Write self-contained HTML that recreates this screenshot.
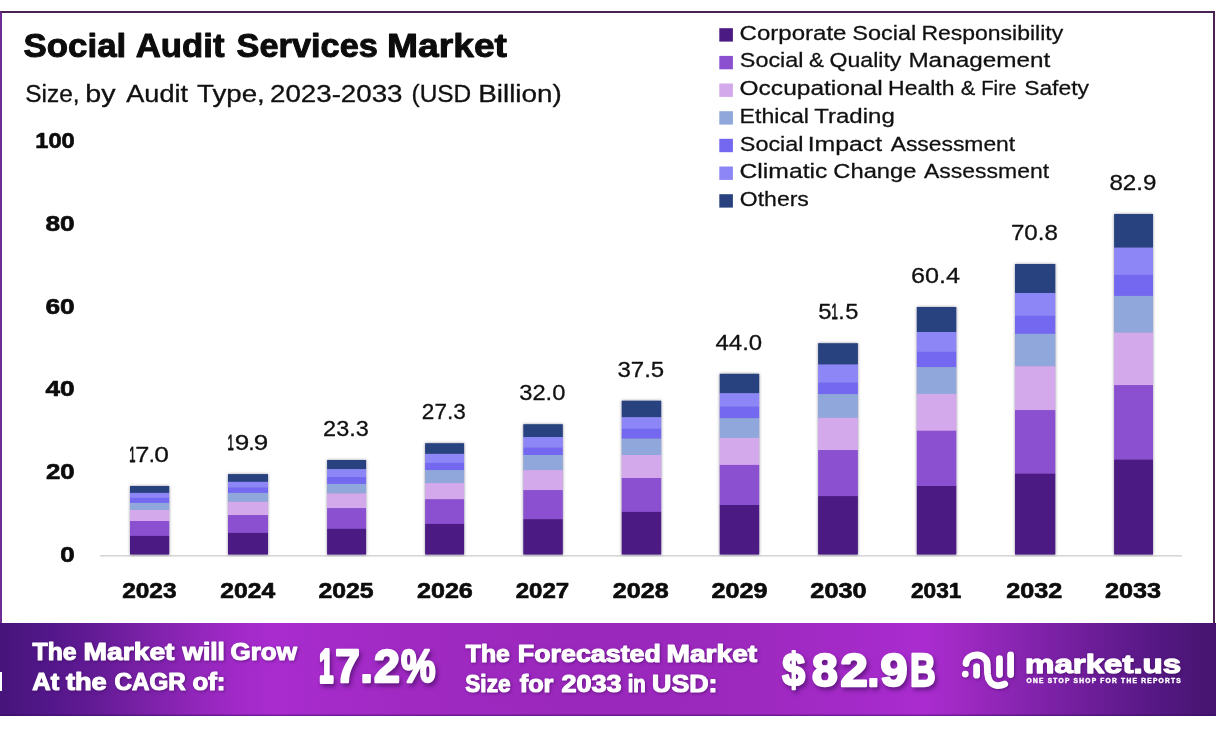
<!DOCTYPE html>
<html lang="en"><head><meta charset="utf-8"><title>Social Audit Services Market</title>
<style>
html,body{margin:0;padding:0;background:#fff}
body{width:1216px;height:730px;overflow:hidden;font-family:"Liberation Sans",sans-serif}
#wrap{position:relative;width:1216px;height:730px;overflow:hidden;background:#fff}
#frame{position:absolute;left:0;top:11px;width:1211px;height:612px;border:2px solid #4a2252;border-left-color:#6d2b93;border-bottom:none;background:#fff}
#banner{position:absolute;left:0;top:623px;width:1216px;height:93px;box-shadow:inset 0 -1.5px 0 rgba(50,10,90,.45);background:linear-gradient(90deg,#46147a 0%,#53178a 4%,#641b96 8%,#7b21a8 12%,#9126ba 16%,#a32ac9 20%,#a92ccf 22.5%,#a52bc9 27%,#9f29c1 35%,#9a28bc 50%,#9d29bf 62%,#a42ac8 70%,#aa2cd0 76%,#9f29c3 79%,#8724b0 84%,#6c1d98 90%,#561884 95%,#45146f 100%)}
#notch{position:absolute;left:0;top:672px;width:1.5px;height:19px;background:#fff}
svg{position:absolute;left:0;top:0}
text{font-family:"Liberation Sans",sans-serif;white-space:pre}
.sh{filter:drop-shadow(1px 1.5px 1.5px rgba(60,10,90,.55))}
.shb{filter:drop-shadow(2px 3px 2px rgba(60,10,90,.6))}
.bars{filter:drop-shadow(0.6px 0.3px 1.8px rgba(40,30,70,.5))}
</style></head><body>
<div id="wrap">
<div id="frame"></div>
<div id="banner"></div>
<div id="notch"></div>
<svg width="1216" height="730" viewBox="0 0 1216 730">
<rect x="100" y="555" width="1082" height="1.6" fill="#d6d6d6"/>
<g class="bars">
<rect x="130.0" y="486.0" width="39.2" height="7.2" fill="#27427e"/><rect x="130.0" y="492.9" width="39.2" height="5.2" fill="#8c86f6"/><rect x="130.0" y="497.8" width="39.2" height="5.4" fill="#7468f1"/><rect x="130.0" y="502.9" width="39.2" height="7.4" fill="#8fa7da"/><rect x="130.0" y="510.0" width="39.2" height="11.3" fill="#d3a9ec"/><rect x="130.0" y="521.0" width="39.2" height="15.2" fill="#8b50d0"/><rect x="130.0" y="535.9" width="39.2" height="18.7" fill="#4b1a82"/>
<rect x="228.0" y="474.1" width="40.0" height="8.0" fill="#27427e"/><rect x="228.0" y="481.8" width="40.0" height="6.0" fill="#8c86f6"/><rect x="228.0" y="487.5" width="40.0" height="5.7" fill="#7468f1"/><rect x="228.0" y="492.9" width="40.0" height="9.2" fill="#8fa7da"/><rect x="228.0" y="501.8" width="40.0" height="13.6" fill="#d3a9ec"/><rect x="228.0" y="515.1" width="40.0" height="18.1" fill="#8b50d0"/><rect x="228.0" y="532.9" width="40.0" height="21.7" fill="#4b1a82"/>
<rect x="327.1" y="460.0" width="39.0" height="9.4" fill="#27427e"/><rect x="327.1" y="469.1" width="39.0" height="8.2" fill="#8c86f6"/><rect x="327.1" y="477.0" width="39.0" height="7.2" fill="#7468f1"/><rect x="327.1" y="483.9" width="39.0" height="9.7" fill="#8fa7da"/><rect x="327.1" y="493.3" width="39.0" height="15.1" fill="#d3a9ec"/><rect x="327.1" y="508.1" width="39.0" height="21.0" fill="#8b50d0"/><rect x="327.1" y="528.8" width="39.0" height="25.8" fill="#4b1a82"/>
<rect x="425.1" y="443.2" width="39.0" height="10.9" fill="#27427e"/><rect x="425.1" y="453.8" width="39.0" height="9.4" fill="#8c86f6"/><rect x="425.1" y="462.9" width="39.0" height="7.5" fill="#7468f1"/><rect x="425.1" y="470.1" width="39.0" height="13.3" fill="#8fa7da"/><rect x="425.1" y="483.1" width="39.0" height="16.4" fill="#d3a9ec"/><rect x="425.1" y="499.2" width="39.0" height="25.0" fill="#8b50d0"/><rect x="425.1" y="523.9" width="39.0" height="30.7" fill="#4b1a82"/>
<rect x="523.3" y="424.2" width="39.5" height="13.1" fill="#27427e"/><rect x="523.3" y="437.0" width="39.5" height="10.9" fill="#8c86f6"/><rect x="523.3" y="447.6" width="39.5" height="7.7" fill="#7468f1"/><rect x="523.3" y="455.0" width="39.5" height="15.4" fill="#8fa7da"/><rect x="523.3" y="470.1" width="39.5" height="20.3" fill="#d3a9ec"/><rect x="523.3" y="490.1" width="39.5" height="29.4" fill="#8b50d0"/><rect x="523.3" y="519.2" width="39.5" height="35.4" fill="#4b1a82"/>
<rect x="621.7" y="400.7" width="39.5" height="16.8" fill="#27427e"/><rect x="621.7" y="417.2" width="39.5" height="11.8" fill="#8c86f6"/><rect x="621.7" y="428.7" width="39.5" height="10.2" fill="#7468f1"/><rect x="621.7" y="438.6" width="39.5" height="16.7" fill="#8fa7da"/><rect x="621.7" y="455.0" width="39.5" height="23.3" fill="#d3a9ec"/><rect x="621.7" y="478.0" width="39.5" height="34.2" fill="#8b50d0"/><rect x="621.7" y="511.9" width="39.5" height="42.7" fill="#4b1a82"/>
<rect x="719.7" y="373.8" width="39.5" height="19.7" fill="#27427e"/><rect x="719.7" y="393.2" width="39.5" height="13.7" fill="#8c86f6"/><rect x="719.7" y="406.6" width="39.5" height="11.9" fill="#7468f1"/><rect x="719.7" y="418.2" width="39.5" height="20.0" fill="#8fa7da"/><rect x="719.7" y="437.9" width="39.5" height="27.3" fill="#d3a9ec"/><rect x="719.7" y="464.9" width="39.5" height="40.4" fill="#8b50d0"/><rect x="719.7" y="505.0" width="39.5" height="49.6" fill="#4b1a82"/>
<rect x="818.1" y="343.2" width="39.8" height="21.6" fill="#27427e"/><rect x="818.1" y="364.5" width="39.8" height="18.4" fill="#8c86f6"/><rect x="818.1" y="382.6" width="39.8" height="11.8" fill="#7468f1"/><rect x="818.1" y="394.1" width="39.8" height="24.0" fill="#8fa7da"/><rect x="818.1" y="417.8" width="39.8" height="32.6" fill="#d3a9ec"/><rect x="818.1" y="450.1" width="39.8" height="46.3" fill="#8b50d0"/><rect x="818.1" y="496.1" width="39.8" height="58.5" fill="#4b1a82"/>
<rect x="916.8" y="307.0" width="39.5" height="25.3" fill="#27427e"/><rect x="916.8" y="332.0" width="39.5" height="20.1" fill="#8c86f6"/><rect x="916.8" y="351.8" width="39.5" height="15.6" fill="#7468f1"/><rect x="916.8" y="367.1" width="39.5" height="27.1" fill="#8fa7da"/><rect x="916.8" y="393.9" width="39.5" height="37.1" fill="#d3a9ec"/><rect x="916.8" y="430.7" width="39.5" height="55.6" fill="#8b50d0"/><rect x="916.8" y="486.0" width="39.5" height="68.6" fill="#4b1a82"/>
<rect x="1015.0" y="264.0" width="40.3" height="29.3" fill="#27427e"/><rect x="1015.0" y="293.0" width="40.3" height="23.1" fill="#8c86f6"/><rect x="1015.0" y="315.8" width="40.3" height="18.3" fill="#7468f1"/><rect x="1015.0" y="333.8" width="40.3" height="32.7" fill="#8fa7da"/><rect x="1015.0" y="366.2" width="40.3" height="44.2" fill="#d3a9ec"/><rect x="1015.0" y="410.1" width="40.3" height="63.9" fill="#8b50d0"/><rect x="1015.0" y="473.7" width="40.3" height="80.9" fill="#4b1a82"/>
<rect x="1114.1" y="214.0" width="38.9" height="33.9" fill="#27427e"/><rect x="1114.1" y="247.6" width="38.9" height="27.6" fill="#8c86f6"/><rect x="1114.1" y="274.9" width="38.9" height="21.3" fill="#7468f1"/><rect x="1114.1" y="295.9" width="38.9" height="37.0" fill="#8fa7da"/><rect x="1114.1" y="332.6" width="38.9" height="52.8" fill="#d3a9ec"/><rect x="1114.1" y="385.1" width="38.9" height="74.8" fill="#8b50d0"/><rect x="1114.1" y="459.6" width="38.9" height="95.0" fill="#4b1a82"/>
</g>
<rect x="719.3" y="28.2" width="13.6" height="13.4" fill="#4b1a82"/>
<rect x="719.3" y="55.9" width="13.6" height="13.4" fill="#8b50d0"/>
<rect x="719.3" y="83.5" width="13.6" height="13.4" fill="#d3a9ec"/>
<rect x="719.3" y="111.2" width="13.6" height="13.4" fill="#8fa7da"/>
<rect x="719.3" y="138.8" width="13.6" height="13.4" fill="#7468f1"/>
<rect x="719.3" y="166.5" width="13.6" height="13.4" fill="#8c86f6"/>
<rect x="719.3" y="194.2" width="13.6" height="13.4" fill="#27427e"/>
<g class="sh" fill="none" stroke="#fff" stroke-width="6.8" stroke-linecap="round" stroke-linejoin="round"><path d="M966 663.5 A10.6 9 0 0 1 987.2 664.5 L987.6 674 C988 680 991.5 685.4 997.5 685.6 C1000.5 685.7 1003 685 1004.7 684"/><path d="M976.6 666.6 L976.6 675.2"/><path d="M999.5 658.7 L999.5 674.5"/><path d="M1010.6 654.9 L1010.6 674.5"/><circle cx="965.3" cy="674.1" r="3.4" fill="#fff" stroke="none"/></g>
<text id="title" y="57.41" font-size="33.4" font-weight="700" fill="#0c0c0c" stroke="#0c0c0c" stroke-width="0.97" stroke-linejoin="round"><tspan x="23.50" textLength="102.76" lengthAdjust="spacingAndGlyphs">Social</tspan> <tspan x="135.76" textLength="88.74" lengthAdjust="spacingAndGlyphs">Audit</tspan> <tspan x="236.50" textLength="141.49" lengthAdjust="spacingAndGlyphs">Services</tspan> <tspan x="387.00" textLength="120.00" lengthAdjust="spacingAndGlyphs">Market</tspan></text>
<text id="sub" y="101.84" font-size="24.2" font-weight="400" fill="#111" stroke="#111" stroke-width="0.32" stroke-linejoin="round"><tspan x="25.23" textLength="54.31" lengthAdjust="spacingAndGlyphs">Size,</tspan> <tspan x="85.27" textLength="30.23" lengthAdjust="spacingAndGlyphs">by</tspan> <tspan x="126.25" textLength="61.75" lengthAdjust="spacingAndGlyphs">Audit</tspan> <tspan x="196.99" textLength="67.78" lengthAdjust="spacingAndGlyphs">Type,</tspan> <tspan x="270.00" textLength="132.50" lengthAdjust="spacingAndGlyphs">2023-2033</tspan> <tspan x="411.49" textLength="59.76" lengthAdjust="spacingAndGlyphs">(USD</tspan> <tspan x="478.21" textLength="83.57" lengthAdjust="spacingAndGlyphs">Billion)</tspan></text>
<text id="y0" y="561.67" font-size="22.8" font-weight="700" fill="#0c0c0c" stroke="#0c0c0c" stroke-width="0.67" stroke-linejoin="round"><tspan x="60.28" textLength="14.44" lengthAdjust="spacingAndGlyphs">0</tspan></text>
<text id="y1" y="478.97" font-size="22.8" font-weight="700" fill="#0c0c0c" stroke="#0c0c0c" stroke-width="0.67" stroke-linejoin="round"><tspan x="46.01" textLength="28.72" lengthAdjust="spacingAndGlyphs">20</tspan></text>
<text id="y2" y="396.27" font-size="22.8" font-weight="700" fill="#0c0c0c" stroke="#0c0c0c" stroke-width="0.67" stroke-linejoin="round"><tspan x="45.50" textLength="29.22" lengthAdjust="spacingAndGlyphs">40</tspan></text>
<text id="y3" y="313.57" font-size="22.8" font-weight="700" fill="#0c0c0c" stroke="#0c0c0c" stroke-width="0.67" stroke-linejoin="round"><tspan x="45.51" textLength="29.22" lengthAdjust="spacingAndGlyphs">60</tspan></text>
<text id="y4" y="230.87" font-size="22.8" font-weight="700" fill="#0c0c0c" stroke="#0c0c0c" stroke-width="0.67" stroke-linejoin="round"><tspan x="45.51" textLength="29.22" lengthAdjust="spacingAndGlyphs">80</tspan></text>
<text id="y5" y="148.17" font-size="22.8" font-weight="700" fill="#0c0c0c" stroke="#0c0c0c" stroke-width="0.67" stroke-linejoin="round"><tspan x="35.25" textLength="39.50" lengthAdjust="spacingAndGlyphs">100</tspan></text>
<text id="x0" y="598.37" font-size="22.8" font-weight="700" fill="#0c0c0c" stroke="#0c0c0c" stroke-width="0.67" stroke-linejoin="round"><tspan x="122.16" textLength="54.33" lengthAdjust="spacingAndGlyphs">2023</tspan></text>
<text id="v0" y="462.25" font-size="22.7" font-weight="400" fill="#111" stroke="#111" stroke-width="0.30" stroke-linejoin="round"><tspan x="129.35" textLength="6.25" lengthAdjust="spacingAndGlyphs" stroke-width="1.00">1</tspan><tspan x="135.28" textLength="14.09" lengthAdjust="spacingAndGlyphs">7</tspan><tspan x="148.73" textLength="6.14" lengthAdjust="spacingAndGlyphs">.</tspan><tspan x="154.35" textLength="14.66" lengthAdjust="spacingAndGlyphs">0</tspan></text>
<text id="x1" y="598.37" font-size="22.8" font-weight="700" fill="#0c0c0c" stroke="#0c0c0c" stroke-width="0.67" stroke-linejoin="round"><tspan x="220.36" textLength="54.89" lengthAdjust="spacingAndGlyphs">2024</tspan></text>
<text id="v1" y="450.35" font-size="22.7" font-weight="400" fill="#111" stroke="#111" stroke-width="0.30" stroke-linejoin="round"><tspan x="227.50" textLength="6.26" lengthAdjust="spacingAndGlyphs" stroke-width="1.00">1</tspan><tspan x="234.85" textLength="14.51" lengthAdjust="spacingAndGlyphs">9</tspan><tspan x="248.22" textLength="6.39" lengthAdjust="spacingAndGlyphs">.</tspan><tspan x="253.78" textLength="14.45" lengthAdjust="spacingAndGlyphs">9</tspan></text>
<text id="x2" y="598.37" font-size="22.8" font-weight="700" fill="#0c0c0c" stroke="#0c0c0c" stroke-width="0.67" stroke-linejoin="round"><tspan x="318.51" textLength="55.13" lengthAdjust="spacingAndGlyphs">2025</tspan></text>
<text id="v2" y="436.25" font-size="22.7" font-weight="400" fill="#111" stroke="#111" stroke-width="0.30" stroke-linejoin="round"><tspan x="323.10" textLength="45.65" lengthAdjust="spacingAndGlyphs">23.3</tspan></text>
<text id="x3" y="598.37" font-size="22.8" font-weight="700" fill="#0c0c0c" stroke="#0c0c0c" stroke-width="0.67" stroke-linejoin="round"><tspan x="416.95" textLength="55.89" lengthAdjust="spacingAndGlyphs">2026</tspan></text>
<text id="v3" y="419.45" font-size="22.7" font-weight="400" fill="#111" stroke="#111" stroke-width="0.30" stroke-linejoin="round"><tspan x="421.86" textLength="43.89" lengthAdjust="spacingAndGlyphs">27.3</tspan></text>
<text id="x4" y="598.37" font-size="22.8" font-weight="700" fill="#0c0c0c" stroke="#0c0c0c" stroke-width="0.67" stroke-linejoin="round"><tspan x="515.66" textLength="53.53" lengthAdjust="spacingAndGlyphs">2027</tspan></text>
<text id="v4" y="400.45" font-size="22.7" font-weight="400" fill="#111" stroke="#111" stroke-width="0.30" stroke-linejoin="round"><tspan x="519.26" textLength="46.13" lengthAdjust="spacingAndGlyphs">32.0</tspan></text>
<text id="x5" y="598.37" font-size="22.8" font-weight="700" fill="#0c0c0c" stroke="#0c0c0c" stroke-width="0.67" stroke-linejoin="round"><tspan x="612.81" textLength="55.83" lengthAdjust="spacingAndGlyphs">2028</tspan></text>
<text id="v5" y="376.95" font-size="22.7" font-weight="400" fill="#111" stroke="#111" stroke-width="0.30" stroke-linejoin="round"><tspan x="617.50" textLength="46.74" lengthAdjust="spacingAndGlyphs">37.5</tspan></text>
<text id="x6" y="598.37" font-size="22.8" font-weight="700" fill="#0c0c0c" stroke="#0c0c0c" stroke-width="0.67" stroke-linejoin="round"><tspan x="711.45" textLength="56.09" lengthAdjust="spacingAndGlyphs">2029</tspan></text>
<text id="v6" y="350.00" font-size="22.7" font-weight="400" fill="#111" stroke="#111" stroke-width="0.30" stroke-linejoin="round"><tspan x="715.51" textLength="46.73" lengthAdjust="spacingAndGlyphs">44.0</tspan></text>
<text id="x7" y="598.37" font-size="22.8" font-weight="700" fill="#0c0c0c" stroke="#0c0c0c" stroke-width="0.67" stroke-linejoin="round"><tspan x="810.36" textLength="56.33" lengthAdjust="spacingAndGlyphs">2030</tspan></text>
<text id="v7" y="319.45" font-size="22.7" font-weight="400" fill="#111" stroke="#111" stroke-width="0.30" stroke-linejoin="round"><tspan x="818.22" textLength="13.21" lengthAdjust="spacingAndGlyphs">5</tspan><tspan x="831.50" textLength="6.26" lengthAdjust="spacingAndGlyphs" stroke-width="1.00">1</tspan><tspan x="838.23" textLength="6.43" lengthAdjust="spacingAndGlyphs">.</tspan><tspan x="845.27" textLength="13.15" lengthAdjust="spacingAndGlyphs">5</tspan></text>
<text id="x8" y="598.37" font-size="22.8" font-weight="700" fill="#0c0c0c" stroke="#0c0c0c" stroke-width="0.67" stroke-linejoin="round"><tspan x="911.01" textLength="50.43" lengthAdjust="spacingAndGlyphs">2031</tspan></text>
<text id="v8" y="283.25" font-size="22.7" font-weight="400" fill="#111" stroke="#111" stroke-width="0.30" stroke-linejoin="round"><tspan x="911.06" textLength="49.04" lengthAdjust="spacingAndGlyphs">60.4</tspan></text>
<text id="x9" y="598.37" font-size="22.8" font-weight="700" fill="#0c0c0c" stroke="#0c0c0c" stroke-width="0.67" stroke-linejoin="round"><tspan x="1006.31" textLength="56.08" lengthAdjust="spacingAndGlyphs">2032</tspan></text>
<text id="v9" y="240.25" font-size="22.7" font-weight="400" fill="#111" stroke="#111" stroke-width="0.30" stroke-linejoin="round"><tspan x="1010.90" textLength="47.00" lengthAdjust="spacingAndGlyphs">70.8</tspan></text>
<text id="x10" y="598.37" font-size="22.8" font-weight="700" fill="#0c0c0c" stroke="#0c0c0c" stroke-width="0.67" stroke-linejoin="round"><tspan x="1104.95" textLength="56.09" lengthAdjust="spacingAndGlyphs">2033</tspan></text>
<text id="v10" y="190.25" font-size="22.7" font-weight="400" fill="#111" stroke="#111" stroke-width="0.30" stroke-linejoin="round"><tspan x="1109.45" textLength="47.00" lengthAdjust="spacingAndGlyphs">82.9</tspan></text>
<text id="l0" y="39.62" font-size="19.9" font-weight="400" fill="#111" stroke="#111" stroke-width="0.26" stroke-linejoin="round"><tspan x="739.55" textLength="106.90" lengthAdjust="spacingAndGlyphs">Corporate</tspan> <tspan x="852.24" textLength="63.92" lengthAdjust="spacingAndGlyphs">Social</tspan> <tspan x="921.40" textLength="141.75" lengthAdjust="spacingAndGlyphs">Responsibility</tspan></text>
<text id="l1" y="67.38" font-size="19.9" font-weight="400" fill="#111" stroke="#111" stroke-width="0.26" stroke-linejoin="round"><tspan x="739.80" textLength="63.66" lengthAdjust="spacingAndGlyphs">Social</tspan> <tspan x="808.95" textLength="14.94" lengthAdjust="spacingAndGlyphs">&amp;</tspan> <tspan x="829.56" textLength="71.79" lengthAdjust="spacingAndGlyphs">Quality</tspan> <tspan x="908.40" textLength="141.80" lengthAdjust="spacingAndGlyphs">Management</tspan></text>
<text id="l2" y="95.14" font-size="19.9" font-weight="400" fill="#111" stroke="#111" stroke-width="0.26" stroke-linejoin="round"><tspan x="739.55" textLength="143.11" lengthAdjust="spacingAndGlyphs">Occupational</tspan> <tspan x="888.07" textLength="66.40" lengthAdjust="spacingAndGlyphs">Health</tspan> <tspan x="960.65" textLength="14.58" lengthAdjust="spacingAndGlyphs">&amp;</tspan> <tspan x="981.19" textLength="35.06" lengthAdjust="spacingAndGlyphs">Fire</tspan> <tspan x="1024.17" textLength="64.79" lengthAdjust="spacingAndGlyphs">Safety</tspan></text>
<text id="l3" y="122.90" font-size="19.9" font-weight="400" fill="#111" stroke="#111" stroke-width="0.26" stroke-linejoin="round"><tspan x="739.57" textLength="69.40" lengthAdjust="spacingAndGlyphs">Ethical</tspan> <tspan x="814.20" textLength="80.60" lengthAdjust="spacingAndGlyphs">Trading</tspan></text>
<text id="l4" y="150.66" font-size="19.9" font-weight="400" fill="#111" stroke="#111" stroke-width="0.26" stroke-linejoin="round"><tspan x="739.80" textLength="63.66" lengthAdjust="spacingAndGlyphs">Social</tspan> <tspan x="807.65" textLength="74.50" lengthAdjust="spacingAndGlyphs">Impact</tspan> <tspan x="890.65" textLength="124.55" lengthAdjust="spacingAndGlyphs">Assessment</tspan></text>
<text id="l5" y="178.42" font-size="19.9" font-weight="400" fill="#111" stroke="#111" stroke-width="0.26" stroke-linejoin="round"><tspan x="739.55" textLength="87.79" lengthAdjust="spacingAndGlyphs">Climatic</tspan> <tspan x="833.30" textLength="83.15" lengthAdjust="spacingAndGlyphs">Change</tspan> <tspan x="924.05" textLength="125.00" lengthAdjust="spacingAndGlyphs">Assessment</tspan></text>
<text id="l6" y="206.18" font-size="19.9" font-weight="400" fill="#111" stroke="#111" stroke-width="0.26" stroke-linejoin="round"><tspan x="739.81" textLength="69.09" lengthAdjust="spacingAndGlyphs">Others</tspan></text>
<text id="b1" class="sh" y="660.12" font-size="24.2" font-weight="700" fill="#ffffff" stroke="#ffffff" stroke-width="1.15" stroke-linejoin="round"><tspan x="32.59" textLength="44.00" lengthAdjust="spacingAndGlyphs">The</tspan> <tspan x="83.46" textLength="91.09" lengthAdjust="spacingAndGlyphs">Market</tspan> <tspan x="182.42" textLength="42.48" lengthAdjust="spacingAndGlyphs">will</tspan> <tspan x="230.52" textLength="66.46" lengthAdjust="spacingAndGlyphs">Grow</tspan></text>
<text id="b2" class="sh" y="690.12" font-size="24.2" font-weight="700" fill="#ffffff" stroke="#ffffff" stroke-width="1.15" stroke-linejoin="round"><tspan x="32.35" textLength="26.92" lengthAdjust="spacingAndGlyphs">At</tspan> <tspan x="65.93" textLength="40.85" lengthAdjust="spacingAndGlyphs">the</tspan> <tspan x="114.51" textLength="71.34" lengthAdjust="spacingAndGlyphs">CAGR</tspan> <tspan x="192.40" textLength="33.06" lengthAdjust="spacingAndGlyphs">of:</tspan></text>
<text id="b3" class="shb" y="682.00" font-size="45.9" font-weight="700" fill="#ffffff" stroke="#ffffff" stroke-width="2.40" stroke-linejoin="round"><tspan x="319.18" textLength="14.04" lengthAdjust="spacingAndGlyphs" stroke-width="3.80">1</tspan><tspan x="335.27" textLength="24.51" lengthAdjust="spacingAndGlyphs">7</tspan><tspan x="360.55" textLength="12.22" lengthAdjust="spacingAndGlyphs">.</tspan><tspan x="374.02" textLength="25.86" lengthAdjust="spacingAndGlyphs">2</tspan><tspan x="401.00" textLength="34.50" lengthAdjust="spacingAndGlyphs">%</tspan></text>
<text id="b4" class="sh" y="662.02" font-size="24.2" font-weight="700" fill="#ffffff" stroke="#ffffff" stroke-width="1.15" stroke-linejoin="round"><tspan x="465.74" textLength="44.15" lengthAdjust="spacingAndGlyphs">The</tspan> <tspan x="517.80" textLength="143.11" lengthAdjust="spacingAndGlyphs">Forecasted</tspan> <tspan x="666.46" textLength="90.74" lengthAdjust="spacingAndGlyphs">Market</tspan></text>
<text id="b5" class="sh" y="692.02" font-size="24.2" font-weight="700" fill="#ffffff" stroke="#ffffff" stroke-width="1.15" stroke-linejoin="round"><tspan x="465.26" textLength="45.33" lengthAdjust="spacingAndGlyphs">Size</tspan> <tspan x="519.73" textLength="33.69" lengthAdjust="spacingAndGlyphs">for</tspan> <tspan x="561.45" textLength="60.14" lengthAdjust="spacingAndGlyphs">2033</tspan> <tspan x="627.66" textLength="18.08" lengthAdjust="spacingAndGlyphs">in</tspan> <tspan x="652.04" textLength="65.49" lengthAdjust="spacingAndGlyphs">USD:</tspan></text>
<text id="b6" class="shb" y="685.80" font-size="46.2" font-weight="700" fill="#ffffff" stroke="#ffffff" stroke-width="2.40" stroke-linejoin="round"><tspan x="782.29" textLength="22.77" lengthAdjust="spacingAndGlyphs">$</tspan><tspan x="811.92" textLength="25.67" lengthAdjust="spacingAndGlyphs">8</tspan><tspan x="840.51" textLength="27.21" lengthAdjust="spacingAndGlyphs">2</tspan><tspan x="867.40" textLength="11.69" lengthAdjust="spacingAndGlyphs">.</tspan><tspan x="880.52" textLength="27.01" lengthAdjust="spacingAndGlyphs">9</tspan><tspan x="910.04" textLength="25.71" lengthAdjust="spacingAndGlyphs">B</tspan></text>
<text id="b7" class="sh" y="672.75" font-size="26.7" font-weight="700" fill="#ffffff" stroke="#ffffff" stroke-width="1.30" stroke-linejoin="round"><tspan x="1024.99" textLength="156.21" lengthAdjust="spacingAndGlyphs">market.us</tspan></text>
<text id="b8" y="683.30" font-size="6.3" font-weight="700" fill="#ffffff" stroke="#ffffff" stroke-width="0.40" stroke-linejoin="round" letter-spacing="1.2"><tspan x="1026.50" textLength="155.44" lengthAdjust="spacingAndGlyphs">ONE STOP SHOP FOR THE REPORTS</tspan></text>
</svg>
</div>
</body></html>
